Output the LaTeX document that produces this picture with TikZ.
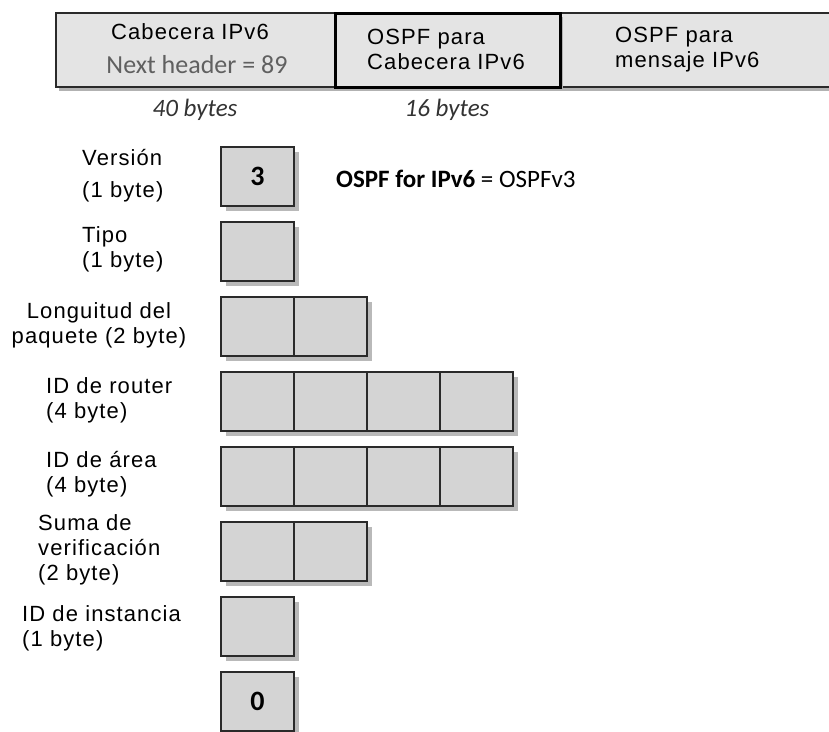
\documentclass[tikz,border=0pt]{standalone}
\usepackage{fontspec}
\setmainfont{Liberation Sans}
\newfontfamily\lab[LetterSpace=5]{Liberation Sans}
\newfontfamily\myriad{Carlito}
\usetikzlibrary{shadows}
\definecolor{barfill}{HTML}{E4E4E4}
\definecolor{cellfill}{HTML}{D4D4D4}
\definecolor{edge}{HTML}{2A2A2A}
\tikzset{
  hdr/.style={draw=edge, line width=2pt, fill=barfill, minimum height=74pt, inner sep=0pt,
    drop shadow={shadow xshift=3pt, shadow yshift=-4pt, fill=gray!60, opacity=1}},
  cell/.style={draw=edge, line width=2.2pt, fill=cellfill, minimum width=73pt, minimum height=59pt, inner sep=0pt,
    drop shadow={shadow xshift=5pt, shadow yshift=-5pt, fill=gray!55, opacity=1}},
  digit/.style={inner sep=0pt, font=\myriad\bfseries\fontsize{28}{28}\selectfont},
  lbl/.style={anchor=west, align=left, inner sep=0pt, font=\lab\fontsize{22}{25}\selectfont},
  note/.style={inner sep=0pt, font=\myriad\fontsize{25}{25}\selectfont}
}

\begin{document}
\begin{tikzpicture}[x=1pt, y=-1pt]
\useasboundingbox (0,0) rectangle (829,731);
\clip (0,0) rectangle (829,731);
% Header bar
    \node[hdr, minimum width=279pt] (cab) at (195.5,50) {};
    \node[hdr, minimum width=290pt] (msg) at (705,50) {};
    \node[hdr, minimum width=225pt, line width=3pt, draw=black] (ospf) at (447.5,50) {};
    \node[lbl, anchor=center] (cabt) at (190,32) {Cabecera IPv6};
    \node[note, text=gray!75!black, font=\myriad\fontsize{26}{26}\selectfont] (next) at (197,65) {Next header = 89};
    \node[lbl] (ospft) at (367,49.5) {OSPF para\\Cabecera IPv6};
    \node[lbl] (msgt) at (615,49.5) {OSPF para\\mensaje IPv6};
% Lengths
    \node[note, text=black!80] (len40) at (195,110) {\itshape 40 bytes};
    \node[note, text=black!80] (len16) at (447,110) {\itshape 16 bytes};
% Packet fields
    \foreach \name/\n/\k in {ver/1/0, tipo/1/1, len/2/2, rid/4/3, aid/4/4, sum/2/5, inst/1/6, zero/1/7}
      \foreach \i in {1,...,\n}
        \node[cell] (\name\i) at ({184.5+73*\i}, {176.5+75*\k}) {};
    \node[digit] (v3) at (ver1) {3};
    \node[digit] (v0) at (zero1) {0};
    \node[note, anchor=west] (ver6) at (336,179) {\textbf{OSPF for IPv6} = OSPFv3};
% Field names
    \node[lbl] (verl) at (82,176) {Versión\\[7pt](1 byte)};
    \node[lbl] (tipol) at (82,249) {Tipo\\(1 byte)};
    \node[lbl, align=center, anchor=center] (lenl) at (99,325) {Longuitud del\\paquete (2 byte)};
    \node[lbl] (ridl) at (46,400) {ID de router\\(4 byte)};
    \node[lbl] (aidl) at (46,474) {ID de área\\(4 byte)};
    \node[lbl] (suml) at (38,550) {Suma de\\verificación\\(2 byte)};
    \node[lbl] (instl) at (22,628) {ID de instancia\\(1 byte)};
\end{tikzpicture}
\end{document}
